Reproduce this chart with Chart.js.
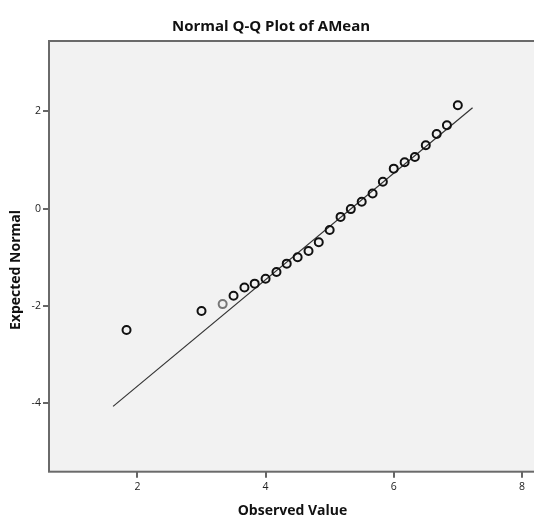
<!DOCTYPE html>
<html>
<head>
<meta charset="utf-8">
<script src="https://cdn.jsdelivr.net/npm/chart.js@4.4.1/dist/chart.umd.min.js"></script>
<style>
  html, body { margin: 0; padding: 0; background: #fff; overflow: hidden; }
  canvas { display: block; }
</style>
</head>
<body>
<canvas id="qqChart" width="542" height="521"></canvas>
<script>
// observed means and their expected normal quantiles
var observed = [1.83, 3.0, 3.33, 3.5, 3.67, 3.83, 4.0, 4.17, 4.33, 4.5, 4.67, 4.83, 5.0,
                5.17, 5.33, 5.5, 5.67, 5.83, 6.0, 6.17, 6.33, 6.5, 6.67, 6.83, 7.0];
var expected = [-2.49, -2.10, -1.96, -1.79, -1.62, -1.54, -1.44, -1.30, -1.13, -1.00, -0.87, -0.69, -0.44,
                -0.17, -0.01, 0.14, 0.31, 0.55, 0.82, 0.95, 1.06, 1.30, 1.53, 1.71, 2.12];
// reference line end points
var lineX = [1.62, 7.23];
var lineY = [-4.06, 2.07];
var xTicks = [2, 4, 6, 8];
var yTicks = [-4, -2, 0, 2];

var pts = observed.map(function (x, i) { return { x: x, y: expected[i] }; });
var refLine = lineX.map(function (x, i) { return { x: x, y: lineY[i] }; });

var boldFont = 'bold 14px "Open Sans"';

// grey plot area with a frame, plus the vertical axis title
var plotFrame = {
  id: 'plotFrame',
  beforeDraw: function (chart) {
    var a = chart.chartArea, c = chart.ctx;
    c.save();
    c.fillStyle = '#f2f2f2';
    c.fillRect(a.left, a.top, a.right - a.left + 10, a.bottom - a.top);
    c.strokeStyle = '#6a6a6a';
    c.lineWidth = 2;
    c.strokeRect(a.left, a.top, a.right - a.left + 14, a.bottom - a.top);
    c.restore();
  },
  afterDraw: function (chart) {
    var c = chart.ctx;
    c.save();
    c.translate(16, 270);
    c.rotate(-Math.PI / 2);
    c.font = boldFont;
    c.fillStyle = '#111';
    c.textAlign = 'center';
    c.textBaseline = 'middle';
    c.fillText('Expected Normal', 0, 0);
    c.restore();
  }
};

var ctx = document.getElementById('qqChart').getContext('2d');
new Chart(ctx, {
  type: 'scatter',
  data: {
    datasets: [
      {
        label: 'Observed',
        data: pts,
        pointRadius: 4,
        pointHoverRadius: 4,
        pointBorderWidth: 2,
        pointBackgroundColor: 'rgba(0,0,0,0)',
        pointBorderColor: pts.map(function (p, i) { return i === 2 ? '#777' : '#111'; }),
        showLine: false
      },
      {
        label: 'Line',
        data: refLine,
        showLine: true,
        borderColor: '#333',
        borderWidth: 1.2,
        pointRadius: 0
      }
    ]
  },
  options: {
    responsive: false,
    animation: false,
    layout: { padding: 0 },
    plugins: {
      legend: { display: false },
      tooltip: { enabled: false },
      title: {
        display: true,
        text: 'Normal Q-Q Plot of AMean',
        color: '#111',
        font: { family: 'Open Sans', size: 15, weight: 'bold' },
        padding: { top: 18, bottom: 5 }
      }
    },
    scales: {
      x: {
        type: 'linear',
        min: 0.62,
        max: 8.22,
        afterBuildTicks: function (axis) { axis.ticks = xTicks.map(function (v) { return { value: v }; }); },
        afterFit: function (axis) { axis.height = 49.3; },
        grid: { drawOnChartArea: false, drawTicks: true, tickLength: 6, color: '#666', lineWidth: 2 },
        border: { display: false },
        ticks: { color: '#222', padding: 3, font: { family: 'Open Sans', size: 10.5 } },
        title: {
          display: true,
          text: 'Observed Value',
          color: '#111',
          font: { family: 'Open Sans', size: 14, weight: 'bold' },
          padding: { top: 0, bottom: 2 }
        }
      },
      y: {
        type: 'linear',
        min: -5.40,
        max: 3.44,
        afterBuildTicks: function (axis) { axis.ticks = yTicks.map(function (v) { return { value: v }; }); },
        afterFit: function (axis) { axis.width = 49; },
        grid: { drawOnChartArea: false, drawTicks: true, tickLength: 6, color: '#666', lineWidth: 2 },
        border: { display: false },
        ticks: { color: '#222', padding: 2, font: { family: 'Open Sans', size: 10.5 } },
        title: { display: false }
      }
    }
  },
  plugins: [plotFrame]
});
</script>
</body>
</html>
